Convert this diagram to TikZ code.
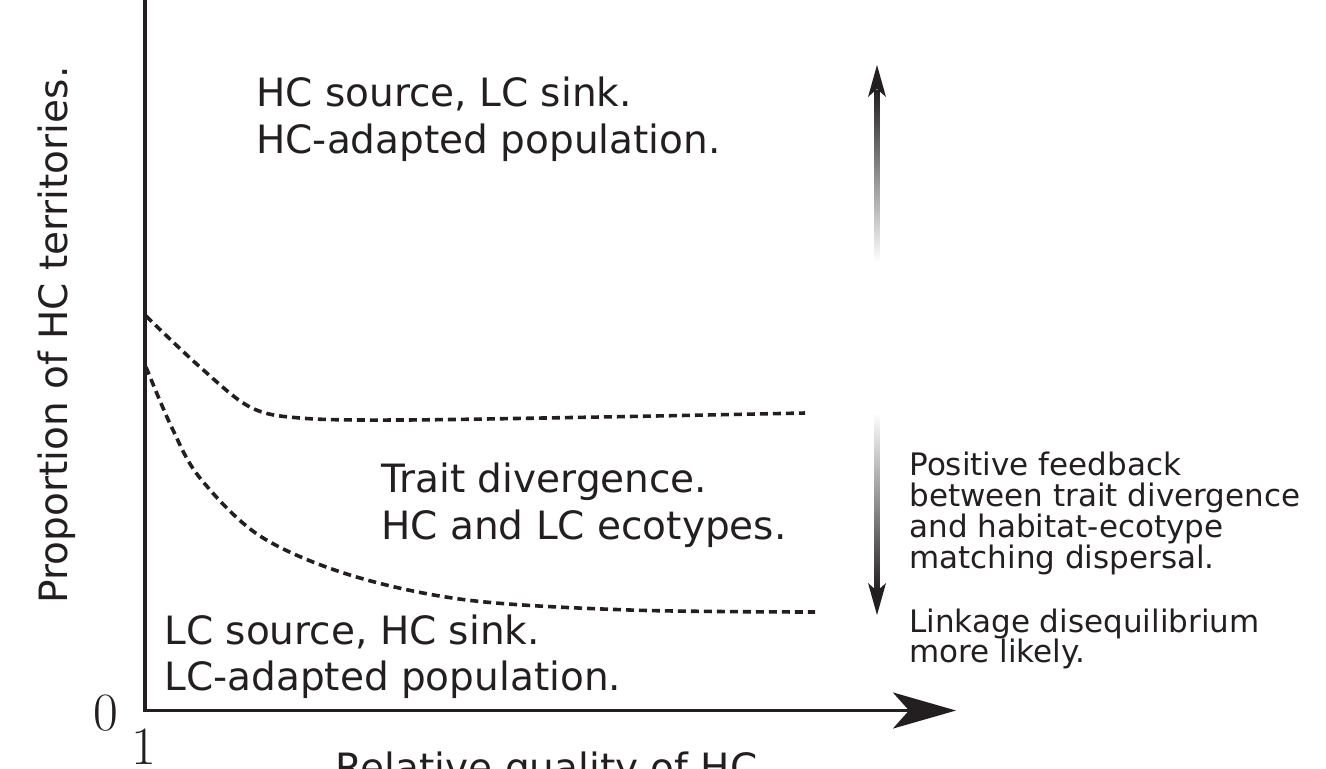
\documentclass[tikz,border=0pt]{standalone}
\usepackage{fontspec}
\setmainfont{DejaVu Sans}
\usetikzlibrary{arrows.meta}
\definecolor{ink}{HTML}{231F20}
\tikzset{
  bigtxt/.style={anchor=base west, inner sep=0pt, text=ink, font=\fontsize{19.5}{23.5}\selectfont},
  smalltxt/.style={anchor=base west, inner sep=0pt, text=ink, font=\fontsize{15.5}{15.5}\selectfont},
  numtxt/.style={anchor=base, inner sep=0pt, text=ink, font=\fontsize{20.74}{21}\selectfont},
  axisline/.style={draw=ink, line width=1.75pt},
  curve/.style={draw=ink, line width=1.8pt, dash pattern=on 4pt off 2.5pt},
  headfill/.style={fill=ink, draw=none}
}
\begin{document}
\begin{tikzpicture}[x=0.5pt,y=-0.5pt]
\useasboundingbox (0,0) rectangle (1326,768);
\clip (0,0) rectangle (1326,768);

% axes
\coordinate (ytop) at (145,-5);
\coordinate (O) at (145,710.5);
\coordinate (xend) at (956,710.5);
\draw[axisline, line join=miter, -{Stealth[length=31.5pt, width=18pt, inset=8pt]}] (ytop) -- (O) -- (xend);

% dashed boundaries
\draw[curve] plot[smooth, tension=0.55] coordinates {(146,316) (200,367) (250,407) (300,418) (400,420) (600,417) (805,413)};
\draw[curve] plot[smooth, tension=0.55] coordinates {(146,367) (172,428) (200,478) (260,536) (350,575) (467,600) (630,610) (815,612)};

% gradient arrows
\shade[top color=ink, bottom color=white] (874.5,90) rectangle (879.5,262);
\fill[headfill] (877,65) -- (886,97) -- (877,89) -- (868,97) -- cycle;
\shade[top color=white, bottom color=ink] (874.5,413) rectangle (879.5,592);
\fill[headfill] (877,615) -- (886,583) -- (877,591) -- (868,583) -- cycle;

% region labels
\node[bigtxt] (a1) at (256,106) {HC source, LC sink.};
\node[bigtxt] (a2) at (256,153) {HC-adapted population.};
\node[bigtxt] (b1) at (381,492) {Trait divergence.};
\node[bigtxt] (b2) at (381,539) {HC and LC ecotypes.};
\node[bigtxt] (c1) at (164,644) {LC source, HC sink.};
\node[bigtxt] (c2) at (164,690) {LC-adapted population.};

% right-hand notes
\node[smalltxt] (r1) at (909,475) {Positive feedback};
\node[smalltxt] (r2) at (909,506) {between trait divergence};
\node[smalltxt] (r3) at (909,537) {and habitat-ecotype};
\node[smalltxt] (r4) at (909,568) {matching dispersal.};
\node[smalltxt] (r5) at (909,632) {Linkage disequilibrium};
\node[smalltxt] (r6) at (909,662) {more likely.};

% axis labels
\node[bigtxt, anchor=base, rotate=90] (ylab) at (67,335) {Proportion of HC territories.};
\node[bigtxt] (xlab) at (335,781) {Relative quality of HC};
\node[numtxt] (zero) at (105.5,730) {\scalebox{1.3}{$0$}};
\node[numtxt] (one) at (144,764) {\scalebox{1.3}{$1$}};
\end{tikzpicture}
\end{document}
